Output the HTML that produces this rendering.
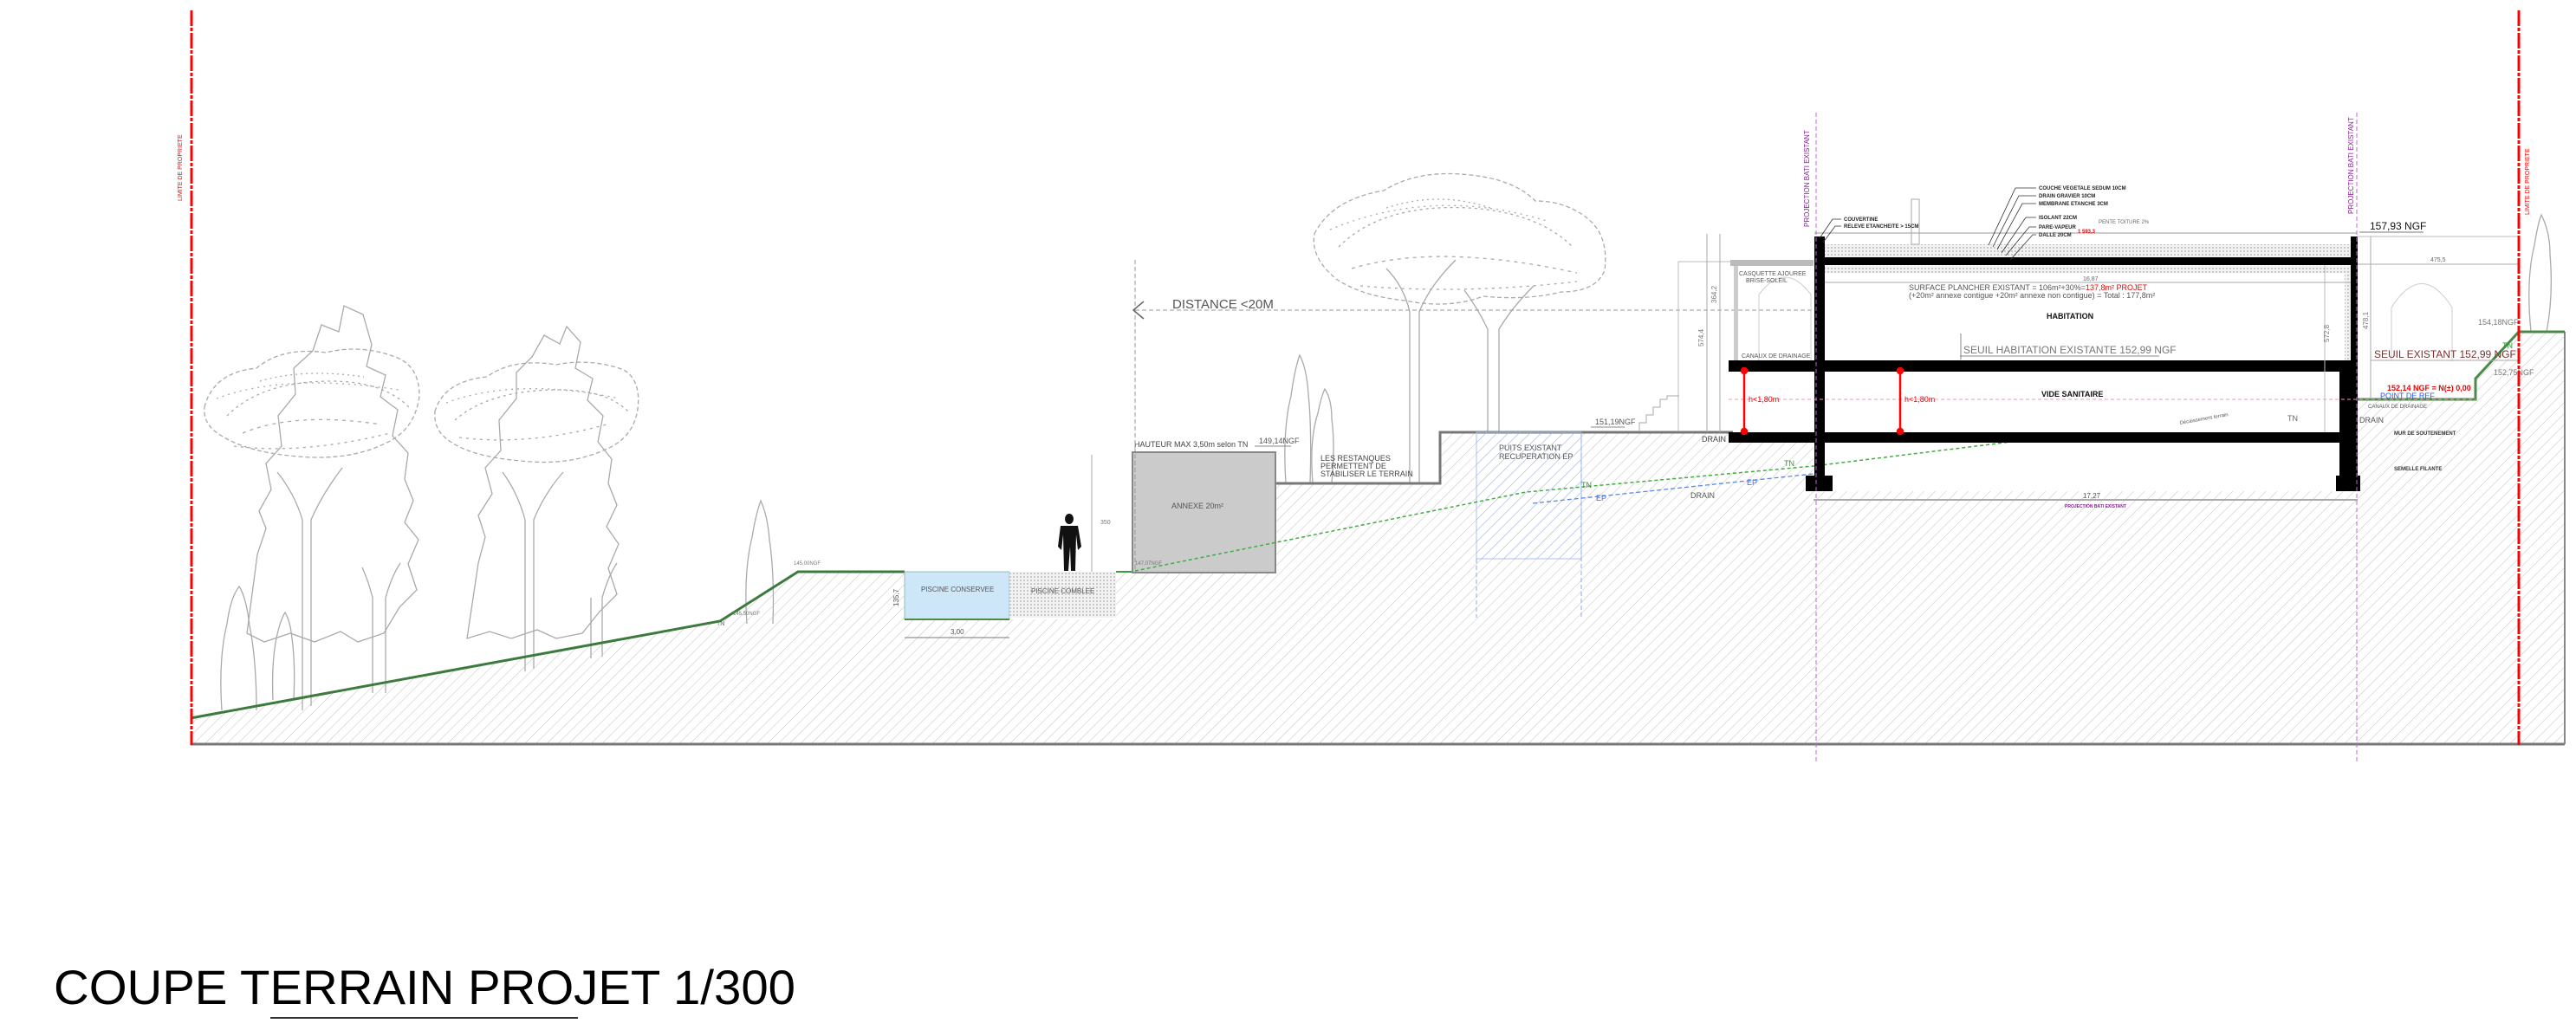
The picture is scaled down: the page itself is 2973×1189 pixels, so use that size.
<!DOCTYPE html>
<html><head><meta charset="utf-8"><style>
html,body{margin:0;padding:0;background:#fff;}
svg{display:block;}
text{font-family:"Liberation Sans",sans-serif;}
</style></head><body>
<svg width="2973" height="1189" viewBox="0 0 2973 1189" xmlns="http://www.w3.org/2000/svg">
<defs>
<pattern id="h" width="9" height="9" patternUnits="userSpaceOnUse" patternTransform="rotate(45)">
<line x1="0" y1="0" x2="0" y2="9" stroke="#c2c2c2" stroke-width="1"/>
</pattern>
<pattern id="hb" width="9" height="9" patternUnits="userSpaceOnUse" patternTransform="rotate(45)">
<line x1="0" y1="0" x2="0" y2="9" stroke="#9fb6ee" stroke-width="1"/>
</pattern>
<pattern id="dots" width="4" height="4" patternUnits="userSpaceOnUse">
<rect width="4" height="4" fill="#f2f2f2"/><circle cx="2" cy="2" r="0.9" fill="#aaa"/>
</pattern>
</defs>

<!-- TREES -->
<g fill="none" stroke="#aaa" stroke-width="1.3">
 <path d="M297,640 l10,-30 -8,-20 14,-25 -6,-30 18,-20 -4,-35 20,-25 -2,-30 22,-20 10,-30 20,8 6,-30 22,10 10,35 -6,25 22,10 -6,25 20,15 -6,30 18,20 -4,30 10,25 -10,25 16,20 -12,28 10,30 -20,20 -18,30 -30,10 -20,-12 -30,12 -28,-10 -30,10 -20,-10 z"/>
 <path d="M236,470 q10,-40 60,-45 q30,-25 80,-18 q40,-10 80,5 q28,10 28,45 q-5,40 -40,55 q-40,20 -100,15 q-60,-5 -90,-25 q-20,-12 -18,-32 z" stroke-dasharray="5 3"/>
 <path d="M262,480 q40,-40 120,-40 q60,0 90,30" stroke-dasharray="3 4"/>
 <path d="M280,500 q60,-25 160,-10" stroke-dasharray="4 5"/>
 <path d="M250,460 q80,-30 210,-10" stroke-dasharray="2 5"/>
 <path d="M270,515 q80,10 180,-15" stroke-dasharray="3 5"/>
 <path d="M300,440 q50,-15 120,-5" stroke-dasharray="2 4"/>
 <path d="M349,820 L349,600 Q340,570 320,545 M359,815 L359,600 Q372,570 395,540"/>
 <path d="M430,800 L430,690 Q425,670 418,655 M445,800 L445,690 Q452,665 462,650"/>
 <path d="M552,650 l8,-30 -8,-25 16,-25 -8,-30 18,-20 -2,-35 20,-25 0,-30 18,-18 14,-25 18,10 8,-20 16,18 -6,30 20,12 -6,25 18,18 -6,30 16,20 -4,28 10,25 -12,25 14,20 -12,28 10,30 -20,20 -20,25 -30,6 -22,-10 -30,10 -25,-8 -26,8 z"/>
 <path d="M502,475 q10,-35 60,-40 q30,-22 80,-14 q40,-8 78,6 q20,12 16,45 q-5,35 -40,48 q-40,18 -95,12 q-60,-5 -85,-25 q-16,-12 -14,-32 z" stroke-dasharray="5 3"/>
 <path d="M525,485 q40,-35 120,-35 q55,0 80,25" stroke-dasharray="3 4"/>
 <path d="M515,465 q80,-30 200,-5" stroke-dasharray="2 5"/>
 <path d="M530,505 q80,10 170,-15" stroke-dasharray="3 5"/>
 <path d="M606,775 L606,600 Q598,570 580,545 M616,772 L616,600 Q628,570 650,545"/>
 <path d="M682,760 L682,690 M695,758 L695,690 Q702,665 712,650"/>
 <path d="M256,820 q-4,-60 6,-100 q4,-30 14,-43 q8,12 12,45 q8,40 8,98"/>
 <path d="M315,808 q-2,-50 6,-80 q4,-15 8,-21 q6,10 8,30 q4,30 2,71"/>
 <path d="M862,720 q-4,-60 6,-100 q4,-25 10,-42 q8,18 10,45 q6,40 4,97"/>
 <path d="M1484,557 q-4,-60 6,-100 q4,-30 10,-47 q8,15 10,45 q4,40 2,102"/>
 <path d="M1515,557 q-4,-50 6,-80 q4,-20 8,-28 q8,12 8,35 q4,30 0,73"/>
 <path d="M2921,383 q-6,-60 4,-100 q4,-25 8,-35 q10,20 10,45 q4,50 -4,90"/>
 <path d="M1517,270 q20,-40 80,-50 q40,-25 100,-18 q50,5 75,30 q35,0 60,20 q25,20 20,60 q-10,25 -50,25 q-40,10 -90,5 q-40,15 -90,5 q-50,-5 -80,-25 q-30,-25 -25,-52 z" stroke-dasharray="5 3"/>
 <path d="M1545,285 q50,-50 150,-45 q80,5 120,45" stroke-dasharray="3 4"/>
 <path d="M1560,310 q100,-30 260,5" stroke-dasharray="4 5"/>
 <path d="M1535,265 q120,-50 250,-10" stroke-dasharray="2 5"/>
 <path d="M1570,330 q120,10 250,-5" stroke-dasharray="3 5"/>
 <path d="M1600,240 q60,-20 120,0" stroke-dasharray="2 4"/>
 <path d="M1627,557 L1627,360 Q1620,330 1600,310 M1638,557 L1638,360 Q1650,330 1680,300"/>
 <path d="M1717,498 L1717,380 Q1705,355 1690,335 M1730,498 L1730,380 Q1745,355 1770,330"/>
</g>

<!-- GROUND -->
<path d="M220,829 L831,717 L921,660 L1044,660 L1044,715 L1288,715 L1288,660 L1471,660 L1471,558 L1662,558 L1662,499 L2093,499 L2093,567 L2721,567 L2721,461 L2857,461 L2857,437 L2907,383 L2960,383 L2960,859 L220,859 Z" fill="url(#h)"/>
<line x1="220" y1="859" x2="2960" y2="859" stroke="#777" stroke-width="3"/>
<line x1="2960" y1="383" x2="2960" y2="859" stroke="#888" stroke-width="2"/>

<polyline points="220,829 831,717 921,660 1044,660" fill="none" stroke="#3d7a3d" stroke-width="3"/>
<polyline points="1288,660 1471,660" fill="none" stroke="#3d9a3d" stroke-width="2"/>
<polyline points="2721,461 2857,461 2857,437 2907,383 2960,383" fill="none" stroke="#4a8a4a" stroke-width="3"/>
<polyline points="1471,558 1662,558 1662,499 2000,499" fill="none" stroke="#777" stroke-width="3"/>

<rect x="1044" y="660" width="121" height="55" fill="#cde6f8" stroke="#9bb" stroke-width="1"/>
<rect x="1165" y="660" width="123" height="53" fill="url(#dots)"/>
<line x1="1044" y1="715" x2="1165" y2="715" stroke="#4a8a4a" stroke-width="2"/>
<text x="1063" y="683" font-size="8" fill="#555">PISCINE CONSERVEE</text>
<text x="1190" y="685" font-size="8" fill="#555">PISCINE COMBLEE</text>
<line x1="1044" y1="736" x2="1165" y2="736" stroke="#777" stroke-width="1"/>
<text x="1097" y="732" font-size="8" fill="#555">3,00</text>
<text x="1037" y="700" font-size="8" fill="#555" transform="rotate(-90 1037 700)">135,7</text>

<rect x="1307" y="522" width="165" height="139" fill="#cbcbcb" stroke="#888" stroke-width="2"/>
<text x="1352" y="587" font-size="9" fill="#555">ANNEXE 20m²</text>
<text x="1309" y="516" font-size="9" fill="#444">HAUTEUR MAX 3,50m selon TN</text>
<text x="1453" y="512" font-size="9" fill="#555">149,14NGF</text>
<line x1="1448" y1="515" x2="1490" y2="515" stroke="#888"/>
<text x="1524" y="532" font-size="9" fill="#444">LES RESTANQUES</text>
<text x="1524" y="541" font-size="9" fill="#444">PERMETTENT DE</text>
<text x="1524" y="550" font-size="9" fill="#444">STABILISER LE TERRAIN</text>
<line x1="1310" y1="300" x2="1310" y2="660" stroke="#999" stroke-dasharray="5 3"/>
<line x1="1260" y1="525" x2="1260" y2="660" stroke="#aaa"/>
<text x="1270" y="605" font-size="7" fill="#777">350</text>

<rect x="1704" y="499" width="121" height="146" fill="url(#hb)" stroke="#a8bff0" stroke-width="1"/>
<text x="1730" y="520" font-size="9" fill="#555">PUITS EXISTANT</text>
<text x="1730" y="530" font-size="9" fill="#555">RECUPERATION EP</text>
<line x1="1704" y1="645" x2="1704" y2="713" stroke="#8aa8ee" stroke-dasharray="5 3"/>
<line x1="1825" y1="499" x2="1825" y2="713" stroke="#8aa8ee" stroke-dasharray="5 3"/>
<text x="1841" y="490" font-size="9" fill="#555">151,19NGF</text>
<line x1="1836" y1="493" x2="1875" y2="493" stroke="#888"/>

<polyline points="1310,659 1761,568 2093,538 2721,461" fill="none" stroke="#3fae3f" stroke-width="1.5" stroke-dasharray="4 3"/>
<polyline points="1769,581 2093,547" fill="none" stroke="#5a86ee" stroke-width="1.3" stroke-dasharray="5 3"/>
<text x="1825" y="563" font-size="9" fill="#2a9a2a">TN</text>
<text x="2059" y="538" font-size="9" fill="#2a9a2a">TN</text>
<text x="1842" y="578" font-size="9" fill="#3a6ae8">EP</text>
<text x="2016" y="560" font-size="9" fill="#3a6ae8">EP</text>
<text x="1951" y="575" font-size="9" fill="#555">DRAIN</text>

<g fill="#111">
<ellipse cx="1234" cy="599" rx="5" ry="6"/>
<path d="M1224,607 h20 l4,24 -4,4 -2,-18 -1,42 h-5 l-1,-28 -2,28 h-5 l-1,-42 -2,18 -4,-4 z"/>
<ellipse cx="2157" cy="356" rx="5" ry="6"/>
<path d="M2147,364 h20 l4,24 -4,4 -2,-18 -1,42 h-5 l-1,-28 -2,28 h-5 l-1,-42 -2,18 -4,-4 z"/>
</g>

<line x1="1310" y1="358" x2="2093" y2="358" stroke="#999" stroke-dasharray="5 3"/>
<polyline points="1320,348 1308,358 1320,368" fill="none" stroke="#666" stroke-width="1.5"/>
<text x="1353" y="356" font-size="15" fill="#555">DISTANCE &lt;20M</text>

<rect x="1997" y="300" width="96" height="7" fill="#bbb"/>
<rect x="2001" y="307" width="5" height="109" fill="#ccc"/>
<polyline points="1937,498 1937,302 1997,302" fill="none" stroke="#bbb"/>
<path d="M2030,416 V340 Q2060,300 2090,340 V416" fill="none" stroke="#ccc"/>
<polyline points="1892,497 1892,488 1900,488 1900,479 1908,479 1908,470 1916,470 1916,461 1924,461 1924,457 1938,457" fill="none" stroke="#aaa"/>
<text x="2007" y="318" font-size="7" fill="#555">CASQUETTE AJOUREE</text>
<text x="2015" y="326" font-size="7" fill="#555">BRISE-SOLEIL</text>
<text x="2010" y="413" font-size="7" fill="#555">CANAUX DE DRAINAGE</text>
<text x="1964" y="510" font-size="9" fill="#444">DRAIN</text>
<line x1="1970" y1="270" x2="1970" y2="499" stroke="#aaa"/>
<line x1="1985" y1="270" x2="1985" y2="499" stroke="#aaa"/>
<text x="1966" y="400" font-size="8" fill="#777" transform="rotate(-90 1966 400)">574,4</text>
<text x="1981" y="350" font-size="8" fill="#777" transform="rotate(-90 1981 350)">364,2</text>

<rect x="2106" y="306" width="607" height="110" fill="#fff"/>
<rect x="2106" y="429" width="594" height="70" fill="#fff"/>
<rect x="2103" y="282" width="610" height="15" fill="url(#dots)"/>
<rect x="2106" y="307" width="600" height="8" fill="url(#dots)"/>
<rect x="2706" y="307" width="7" height="109" fill="url(#dots)"/>
<line x1="2094" y1="269" x2="2720" y2="269" stroke="#999"/>
<rect x="2094" y="273" width="12" height="294" fill="#000"/>
<rect x="2713" y="273" width="8" height="144" fill="#000"/>
<rect x="2700" y="416" width="21" height="151" fill="#000"/>
<rect x="2103" y="297" width="618" height="9" fill="#000"/>
<rect x="1995" y="416" width="726" height="13" fill="#000"/>
<rect x="1995" y="499" width="705" height="12" fill="#000"/>
<rect x="2084" y="549" width="31" height="18" fill="#000"/>
<rect x="2696" y="549" width="28" height="18" fill="#000"/>
<rect x="2206" y="230" width="9" height="52" fill="none" stroke="#aaa"/>
<g font-size="6" fill="#222" font-weight="bold">
<text x="2353" y="219">COUCHE VEGETALE SEDUM 10CM</text>
<text x="2353" y="228">DRAIN GRAVIER 10CM</text>
<text x="2353" y="237">MEMBRANE ETANCHE 3CM</text>
<text x="2353" y="253">ISOLANT 22CM</text>
<text x="2353" y="264">PARE-VAPEUR</text>
<text x="2353" y="273">DALLE 20CM</text>
<text x="2128" y="255">COUVERTINE</text>
<text x="2128" y="263">RELEVE ETANCHEITE &gt; 15CM</text>
</g>
<g stroke="#333" stroke-width="0.8" fill="none">
<polyline points="2350,217 2326,217 2295,283"/>
<polyline points="2350,226 2330,226 2300,285"/>
<polyline points="2350,235 2334,235 2305,288"/>
<polyline points="2350,251 2338,251 2310,292"/>
<polyline points="2350,262 2342,262 2315,295"/>
<polyline points="2350,271 2346,271 2320,300"/>
<polyline points="2125,253 2115,253 2100,275"/>
<polyline points="2125,261 2118,261 2104,280"/>
</g>
<text x="2422" y="258" font-size="6" fill="#666">PENTE TOITURE 2%</text>
<text x="2398" y="269" font-size="6" fill="#e00" font-weight="bold">1 593,3</text>
<text x="2735" y="265" font-size="12" fill="#111">157,93 NGF</text>
<line x1="2723" y1="268" x2="2797" y2="268" stroke="#777"/>
<line x1="2720" y1="273" x2="2907" y2="273" stroke="#bbb"/>
<line x1="2721" y1="305" x2="2907" y2="305" stroke="#aaa"/>
<text x="2805" y="302" font-size="7" fill="#666">475,5</text>
<path d="M2760,417 V355 Q2795,300 2830,355 V417" fill="none" stroke="#ccc"/>
<line x1="2736" y1="273" x2="2736" y2="461" stroke="#aaa"/>
<text x="2733" y="380" font-size="8" fill="#777" transform="rotate(-90 2733 380)">478,1</text>
<line x1="2683" y1="306" x2="2683" y2="499" stroke="#bbb"/>
<text x="2688" y="395" font-size="8" fill="#777" transform="rotate(-90 2688 395)">572,8</text>
<line x1="2106" y1="326" x2="2713" y2="326" stroke="#aaa"/>
<text x="2404" y="324" font-size="7" fill="#666">16,87</text>
<text x="2203" y="335" font-size="9" fill="#555">SURFACE PLANCHER EXISTANT = 106m²+30%=<tspan fill="#e00">137,8m² PROJET</tspan></text>
<text x="2203" y="344" font-size="9" fill="#555">(+20m² annexe contigue +20m² annexe non contigue) = Total : 177,8m²</text>
<text x="2362" y="368" font-size="9" fill="#111" font-weight="bold">HABITATION</text>
<text x="2266" y="408" font-size="12" fill="#777">SEUIL HABITATION EXISTANTE 152,99 NGF</text>
<line x1="2262" y1="411" x2="2492" y2="411" stroke="#888"/>
<line x1="2263" y1="385" x2="2263" y2="415" stroke="#888"/>
<text x="2356" y="458" font-size="9" fill="#111" font-weight="bold">VIDE SANITAIRE</text>
<text x="2640" y="486" font-size="9" fill="#666">TN</text>
<text x="2516" y="490" font-size="6" fill="#555" transform="rotate(-10 2516 490)">Décaissement terrain</text>
<line x1="1995" y1="461" x2="2857" y2="461" stroke="#f09ab8" stroke-dasharray="4 3"/>
<g stroke="#f00" stroke-width="2.5" fill="#f00">
<line x1="2013" y1="428" x2="2013" y2="498"/><circle cx="2013" cy="428" r="3"/><circle cx="2013" cy="498" r="3"/>
<line x1="2193" y1="428" x2="2193" y2="498"/><circle cx="2193" cy="428" r="3"/><circle cx="2193" cy="498" r="3"/>
</g>
<text x="2018" y="464" font-size="9" fill="#e00">h&lt;1,80m</text>
<text x="2198" y="464" font-size="9" fill="#e00">h&lt;1,80m</text>
<text x="2740" y="413" font-size="12" fill="#7a3030">SEUIL EXISTANT 152,99 NGF</text>
<line x1="2736" y1="416" x2="2907" y2="416" stroke="#aaa"/>
<text x="2755" y="451" font-size="9" fill="#e00" font-weight="bold">152,14 NGF = N(±) 0,00</text>
<text x="2747" y="460" font-size="9" fill="#2a5ae8">POINT DE REF</text>
<text x="2733" y="471" font-size="6" fill="#555">CANAUX DE DRAINAGE</text>
<text x="2723" y="488" font-size="9" fill="#555">DRAIN</text>
<text x="2763" y="502" font-size="6" fill="#333" font-weight="bold">MUR DE SOUTENEMENT</text>
<text x="2763" y="543" font-size="6" fill="#333" font-weight="bold">SEMELLE FILANTE</text>
<text x="2860" y="375" font-size="9" fill="#777">154,18NGF</text>
<text x="2878" y="433" font-size="9" fill="#777">152,75NGF</text>
<text x="2888" y="402" font-size="9" fill="#2a9a2a">TN</text>
<line x1="2093" y1="577" x2="2721" y2="577" stroke="#aaa" stroke-width="2"/>
<text x="2404" y="575" font-size="8" fill="#555">17,27</text>
<text x="2383" y="586" font-size="5" fill="#8a1a9a" font-weight="bold">PROJECTION BATI EXISTANT</text>

<line x1="2096" y1="130" x2="2096" y2="880" stroke="#b76ad0" stroke-dasharray="5 3"/>
<line x1="2720" y1="130" x2="2720" y2="880" stroke="#b76ad0" stroke-dasharray="5 3"/>
<text x="2088" y="262" font-size="8" fill="#8a1a9a" transform="rotate(-90 2088 262)">PROJECTION BATI EXISTANT</text>
<text x="2716" y="247" font-size="8" fill="#8a1a9a" transform="rotate(-90 2716 247)">PROJECTION BATI EXISTANT</text>

<line x1="221" y1="12" x2="221" y2="860" stroke="#f00" stroke-width="3" stroke-dasharray="18 2 4 2"/>
<line x1="2907" y1="12" x2="2907" y2="860" stroke="#f00" stroke-width="3" stroke-dasharray="18 2 4 2"/>
<text x="210" y="232" font-size="7" fill="#f00" transform="rotate(-90 210 232)">LIMITE DE PROPRIETE</text>
<text x="2919" y="248" font-size="7" fill="#f00" transform="rotate(-90 2919 248)">LIMITE DE PROPRIETE</text>

<text x="846" y="710" font-size="6" fill="#777">145,50NGF</text>
<text x="916" y="652" font-size="6" fill="#777">145,00NGF</text>
<text x="1310" y="652" font-size="6" fill="#777">147,07NGF</text>
<text x="827" y="722" font-size="7" fill="#666">TN</text>

<text x="62" y="1159" font-size="56" fill="#000" textLength="856" lengthAdjust="spacingAndGlyphs">COUPE TERRAIN PROJET 1/300</text>
<line x1="312" y1="1175" x2="667" y2="1175" stroke="#333" stroke-width="2"/>
</svg>
</body></html>
